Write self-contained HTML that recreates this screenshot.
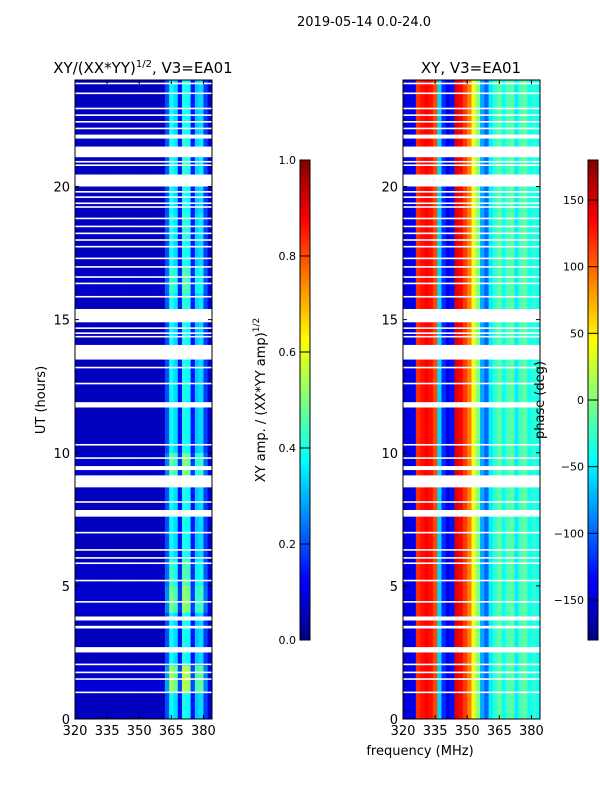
<!DOCTYPE html>
<html><head><meta charset="utf-8"><style>
body{margin:0;background:#fff;font-family:"Liberation Sans",sans-serif;}
svg text{font-family:"DejaVu Sans","Liberation Sans",sans-serif;fill:#000;}
</style></head><body>
<svg id="fig" width="600" height="800" xmlns="http://www.w3.org/2000/svg">
<rect width="600" height="800" fill="#fff"/>
<text x="364" y="26" font-size="13" text-anchor="middle">2019-05-14 0.0-24.0</text>
<text x="143" y="73" font-size="15" text-anchor="middle">XY/(XX*YY)<tspan font-size="10" dy="-6">1/2</tspan><tspan dy="6">, V3=EA01</tspan></text>
<text x="471" y="73" font-size="15" text-anchor="middle">XY, V3=EA01</text>
<text transform="translate(45,400) rotate(-90)" font-size="13" text-anchor="middle">UT (hours)</text>
<text x="420" y="755" font-size="13" text-anchor="middle">frequency (MHz)</text>
<text transform="translate(265,400) rotate(-90)" font-size="13" text-anchor="middle">XY amp. / (XX*YY amp)<tspan font-size="9" dy="-6">1/2</tspan></text>
<g id="left"></g>
<g id="right"></g>
<g id="cbars"></g>
<g id="axes"></g>
<text transform="translate(544,400) rotate(-90)" font-size="13" text-anchor="middle">phase (deg)</text>
</svg>
<script>
// frequency column edges (MHz), 2 MHz per column
const freqEdges = [320,322,324,326,328,330,332,334,336,338,340,342,344,346,348,350,352,354,356,358,360,362,364,366,368,370,372,374,376,378,380,382,384];
// normalized amplitude per frequency column
const ampProfile = [0.06,0.06,0.06,0.06,0.06,0.06,0.06,0.06,0.06,0.06,0.06,0.06,0.06,0.06,0.06,0.06,0.06,0.06,0.06,0.06,0.06,0.2,0.38,0.34,0.14,0.4,0.38,0.14,0.32,0.34,0.18,0.08];
// phase (deg) per frequency column
const phaseProfile = [-150,-145,-140,120,130,135,130,110,-60,-120,-140,-130,145,135,115,90,40,0,-75,-100,-50,-30,-10,-40,-20,-10,-50,-20,-10,-40,-30,-40];
// per-hour amplitude gain (hours 0..23)
const ampGain = [1.0,1.4,1.0,1.0,1.3,1.15,1.0,1.0,1.0,1.25,1.0,1.0,1.0,1.0,1.0,1.05,1.15,1.0,1.05,1.0,1.05,1.05,1.0,1.0];
// data gaps [start hour, end hour]
const gaps = [[23.84,23.9],[23.47,23.53],[22.9,22.96],[22.65,22.71],[22.4,22.46],[22.15,22.21],[21.8,21.95],[21.1,21.5],[20.9,20.96],[20.77,20.83],[20.0,20.45],[19.77,19.83],[19.57,19.63],[19.34,19.4],[19.2,19.26],[18.77,18.83],[18.47,18.53],[18.21,18.27],[17.96,18.02],[17.71,17.77],[17.27,17.33],[16.95,17.01],[16.57,16.63],[16.33,16.39],[15.83,15.89],[14.9,15.4],[14.65,14.71],[14.46,14.52],[14.33,14.39],[13.5,14.05],[13.17,13.23],[12.57,12.63],[11.7,11.9],[10.27,10.33],[9.77,9.83],[9.35,9.5],[8.7,9.15],[8.12,8.18],[7.6,7.85],[6.97,7.03],[6.32,6.38],[6.02,6.08],[5.82,5.88],[5.17,5.23],[4.37,4.43],[3.7,3.85],[3.4,3.5],[2.5,2.7],[2.02,2.08],[1.72,1.78],[1.47,1.53],[0.97,1.03]];
const xTicks = [320,335,350,365,380];
const yTicks = [0,5,10,15,20];
const ampTicks = [0.0,0.2,0.4,0.6,0.8,1.0];
const phaseTicks = [-150,-100,-50,0,50,100,150];

const NS="http://www.w3.org/2000/svg";
function jet(v){v=Math.max(0,Math.min(1,v));
 const r=Math.max(0,Math.min(1,1.5-Math.abs(4*v-3))),g=Math.max(0,Math.min(1,1.5-Math.abs(4*v-2))),b=Math.max(0,Math.min(1,1.5-Math.abs(4*v-1)));
 return `rgb(${Math.round(r*255)},${Math.round(g*255)},${Math.round(b*255)})`;}
function mk(tag,attrs,parent){const e=document.createElementNS(NS,tag);for(const k in attrs)e.setAttribute(k,attrs[k]);parent.appendChild(e);return e;}
const Y0=719,Y1=80;
function yS(h){return Y0-(h/24)*(Y0-Y1);}
function xS(f,x0){return x0+(f-320)/64*137;}
const panels=[{x0:75,g:'left'},{x0:403,g:'right'}];
panels.forEach((p,pi)=>{
 const g=document.getElementById(p.g);
 for(let h=0;h<24;h++){
  for(let c=0;c<freqEdges.length-1;c++){
   const x=xS(freqEdges[c],p.x0),w=xS(freqEdges[c+1],p.x0)-x;
   const v=pi===0?ampProfile[c]*ampGain[h]:(phaseProfile[c]+180)/360;
   const r=mk('rect',{x:x,y:yS(h+1),width:w+0.3,height:yS(h)-yS(h+1)+0.3,fill:jet(v)},g);
   
   
  }
 }
 gaps.forEach(gp=>{
  const r=mk('rect',{x:p.x0,y:yS(gp[1]),width:137,height:yS(gp[0])-yS(gp[1]),fill:'#fff'},g);
  
  
 });
 const ax=document.getElementById('axes');
 const fr=mk('rect',{x:p.x0,y:Y1,width:137,height:Y0-Y1,fill:'none',stroke:'#000','stroke-width':1},ax);
 
 
 xTicks.forEach(t=>{const x=xS(t,p.x0);
  mk('line',{x1:x,x2:x,y1:Y0,y2:Y0-4,stroke:'#000'},ax);
  mk('line',{x1:x,x2:x,y1:Y1,y2:Y1+4,stroke:'#000'},ax);
  const tx=mk('text',{x:x,y:Y0+16,'font-size':13,'text-anchor':'middle'},ax);tx.textContent=t;
  
  });
 yTicks.forEach(t=>{const y=yS(t);
  mk('line',{x1:p.x0,x2:p.x0+4,y1:y,y2:y,stroke:'#000'},ax);
  mk('line',{x1:p.x0+137,x2:p.x0+133,y1:y,y2:y,stroke:'#000'},ax);
  const tx=mk('text',{x:p.x0-5,y:y+5,'font-size':13,'text-anchor':'end'},ax);tx.textContent=t;
  
  });
});
// colorbars
const cb=document.getElementById('cbars');
[{x:300,ticks:ampTicks,lo:0,hi:1,fmt:v=>v.toFixed(1)},{x:588,ticks:phaseTicks,lo:-180,hi:180,fmt:v=>String(v).replace('-','\u2212')}].forEach(c=>{
 const n=120;
 for(let i=0;i<n;i++){
  const r=mk('rect',{x:c.x,y:640-(i+1)*480/n,width:10,height:480/n+0.5,fill:jet((i+0.5)/n)},cb);
  
  
 }
 mk('rect',{x:c.x,y:160,width:10,height:480,fill:'none',stroke:'#000'},cb);
 c.ticks.forEach(t=>{const y=640-(t-c.lo)/(c.hi-c.lo)*480;
  mk('line',{x1:c.x,x2:c.x+10,y1:y,y2:y,stroke:'#000'},cb);
  const tx=mk('text',{x:c.x-4,y:y+4,'font-size':11,'text-anchor':'end'},cb);tx.textContent=c.fmt(t);
  
  });
});
</script>
</body></html>
